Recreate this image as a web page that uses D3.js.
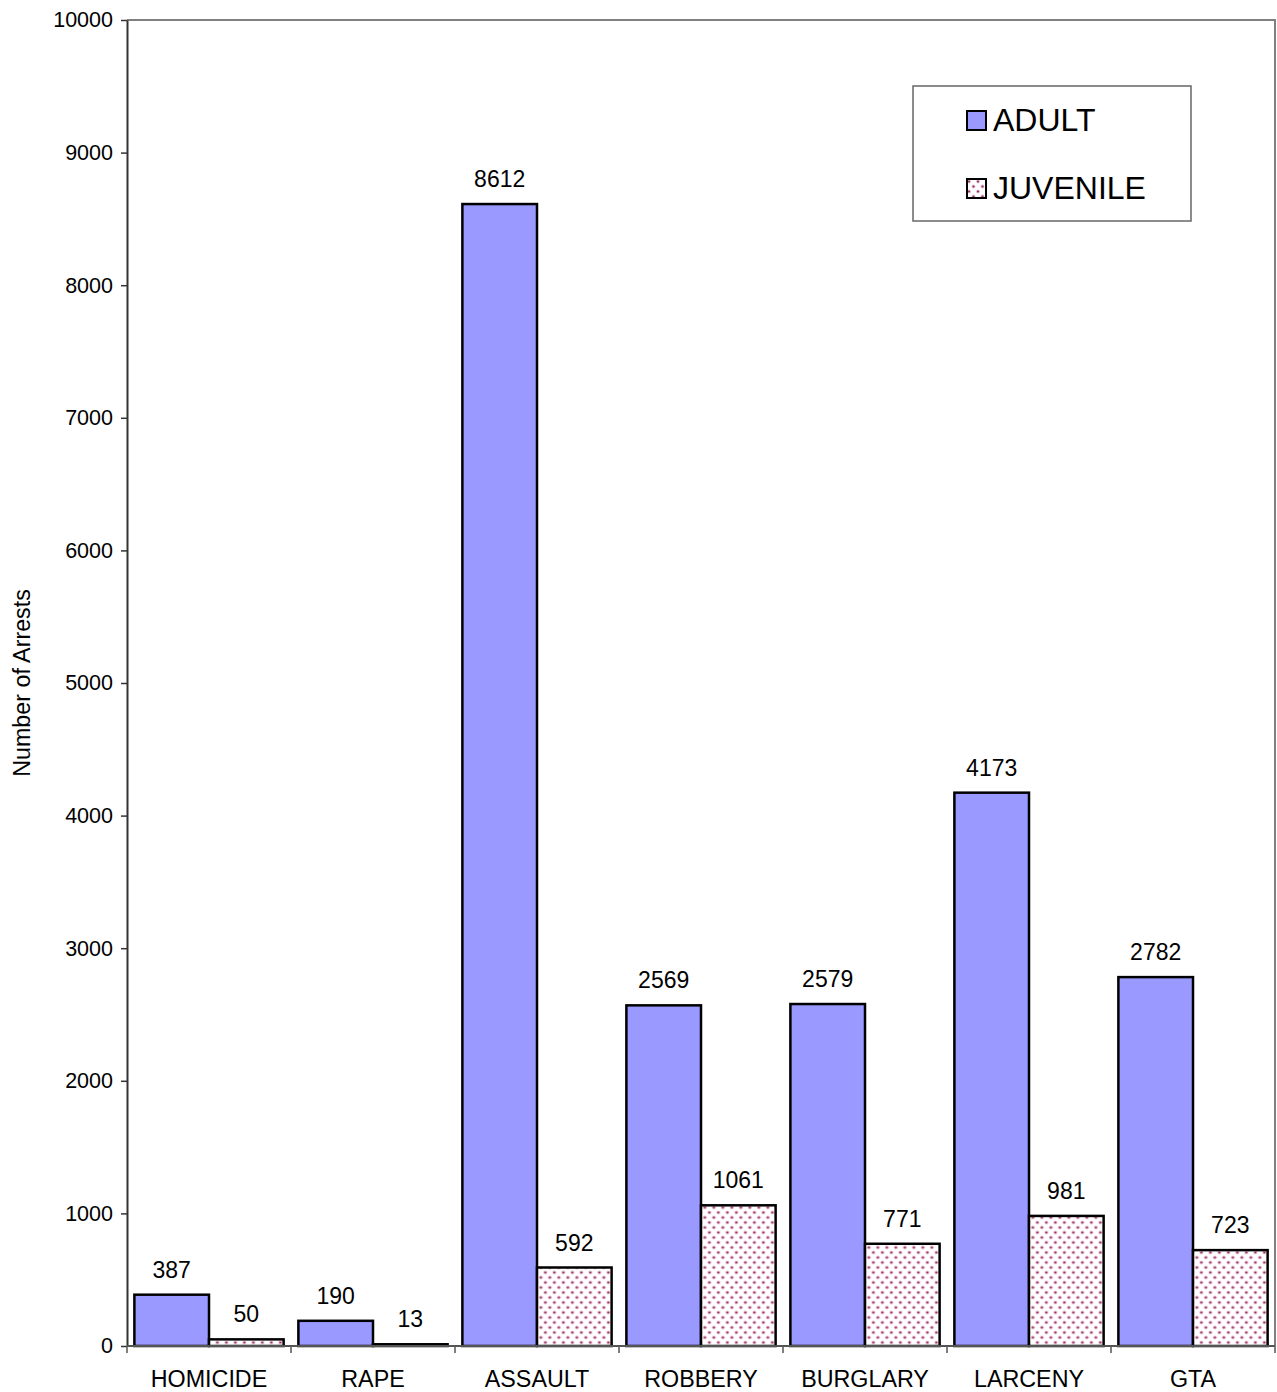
<!DOCTYPE html>
<html lang="en">
<head>
  <meta charset="UTF-8" />
  <title>Arrests by Offense: Adult vs Juvenile</title>
  <style>
    body { margin: 0; background: #fff; }
    svg { display: block; font-family: "Liberation Sans", Arial, sans-serif; }
  </style>
</head>
<body>
  <svg id="chart" width="1277" height="1392"></svg>

  <script src="https://d3js.org/d3.v7.min.js"></script>
  <script>
    const categories = ["HOMICIDE", "RAPE", "ASSAULT", "ROBBERY", "BURGLARY", "LARCENY", "GTA"];
    const seriesNames = ["ADULT", "JUVENILE"];
    const adult = [387, 190, 8612, 2569, 2579, 4173, 2782];
    const juvenile = [50, 13, 592, 1061, 771, 981, 723];
    const yTicks = [0, 1000, 2000, 3000, 4000, 5000, 6000, 7000, 8000, 9000, 10000];

    const width = 1277, height = 1392;
    const margin = { top: 20, right: 2, bottom: 46, left: 127 };
    const svg = d3.select("#chart");

    const defs = svg.append("defs");
    const pat = defs.append("pattern")
      .attr("id", "dots")
      .attr("patternUnits", "userSpaceOnUse")
      .attr("width", 9).attr("height", 10);
    pat.append("rect").attr("width", 9).attr("height", 10).attr("fill", "#fff");
    [[2, 2.5], [6.5, 7.5]].forEach(([cx, cy]) => {
      pat.append("circle").attr("cx", cx).attr("cy", cy).attr("r", 1.9).attr("fill", "#e6bcd0");
      pat.append("circle").attr("cx", cx).attr("cy", cy).attr("r", 1.1).attr("fill", "#993366");
    });

    const fills = ["#9999ff", "url(#dots)"];

    const x = d3.scaleBand()
      .domain(categories)
      .range([margin.left, width - margin.right])
      .paddingInner(0.09).paddingOuter(0.045);
    const x1 = d3.scaleBand().domain(seriesNames).range([0, x.bandwidth()]);

    const y = d3.scaleLinear().domain([0, 10000]).range([height - margin.bottom, margin.top]);

    const x0 = margin.left, xR = width - margin.right;
    const y0 = y(0), yT = y(10000);

    // plot frame (top and right in grey)
    svg.append("path")
      .attr("d", `M${x0},${yT}H${xR}V${y0}`)
      .attr("fill", "none").attr("stroke", "#808080").attr("stroke-width", 2);

    const rows = categories.map((c, i) => ({ cat: c, vals: [adult[i], juvenile[i]] }));

    const groups = svg.append("g").selectAll("g")
      .data(rows).join("g")
      .attr("transform", d => `translate(${x(d.cat)},0)`);

    groups.selectAll("rect")
      .data(d => d.vals.map((v, k) => ({ s: seriesNames[k], v, k })))
      .join("rect")
      .attr("x", d => x1(d.s))
      .attr("y", d => y(d.v))
      .attr("width", x1.bandwidth())
      .attr("height", d => y0 - y(d.v))
      .attr("fill", d => fills[d.k])
      .attr("stroke", "#000").attr("stroke-width", 2.5);

    groups.selectAll("text")
      .data(d => d.vals.map((v, k) => ({ s: seriesNames[k], v })))
      .join("text")
      .attr("x", d => x1(d.s) + x1.bandwidth() / 2)
      .attr("y", d => y(d.v) - 17)
      .attr("text-anchor", "middle")
      .attr("font-size", 23)
      .text(d => d.v);

    // y axis
    const yAxis = svg.append("g")
      .attr("transform", `translate(${x0},0)`)
      .call(d3.axisLeft(y).tickValues(yTicks).tickFormat(d3.format("d"))
        .tickSize(6).tickSizeOuter(0).tickPadding(8));
    yAxis.select(".domain").attr("stroke", "#333").attr("stroke-width", 2);
    yAxis.selectAll(".tick line").attr("stroke", "#333").attr("stroke-width", 1.5);
    yAxis.selectAll(".tick text").attr("font-size", 21.5).attr("font-family", "Liberation Sans, Arial, sans-serif").attr("fill", "#000");

    // x axis with ticks at band boundaries
    const xAxis = svg.append("g");
    xAxis.append("line")
      .attr("x1", x0).attr("x2", xR).attr("y1", y0).attr("y2", y0)
      .attr("stroke", "#555").attr("stroke-width", 2);
    const bounds = d3.range(categories.length + 1).map(i => x0 + i * (xR - x0) / categories.length);
    xAxis.selectAll("line.tk").data(bounds).join("line")
      .attr("class", "tk")
      .attr("x1", d => d).attr("x2", d => d)
      .attr("y1", y0).attr("y2", y0 + 7)
      .attr("stroke", "#555").attr("stroke-width", 1.5);
    xAxis.selectAll("text").data(categories).join("text")
      .attr("x", d => x(d) + x.bandwidth() / 2)
      .attr("y", y0 + 41)
      .attr("text-anchor", "middle")
      .attr("font-size", 23.3)
      .text(d => d);

    // y axis title
    svg.append("text")
      .attr("transform", `translate(30,${(y0 + yT) / 2}) rotate(-90)`)
      .attr("text-anchor", "middle")
      .attr("font-size", 23.3)
      .text("Number of Arrests");

    // legend
    const lg = svg.append("g").attr("transform", "translate(913,86)");
    lg.append("rect")
      .attr("width", 278).attr("height", 135)
      .attr("fill", "#fff").attr("stroke", "#666").attr("stroke-width", 1.5);
    seriesNames.forEach((s, k) => {
      const row = lg.append("g").attr("transform", `translate(54,${25 + k * 68})`);
      row.append("rect")
        .attr("width", 19).attr("height", 19)
        .attr("fill", fills[k]).attr("stroke", "#000").attr("stroke-width", 2);
      row.append("text")
        .attr("x", 26).attr("y", 20)
        .attr("font-size", 32)
        .text(s);
    });
  </script>
</body>
</html>
